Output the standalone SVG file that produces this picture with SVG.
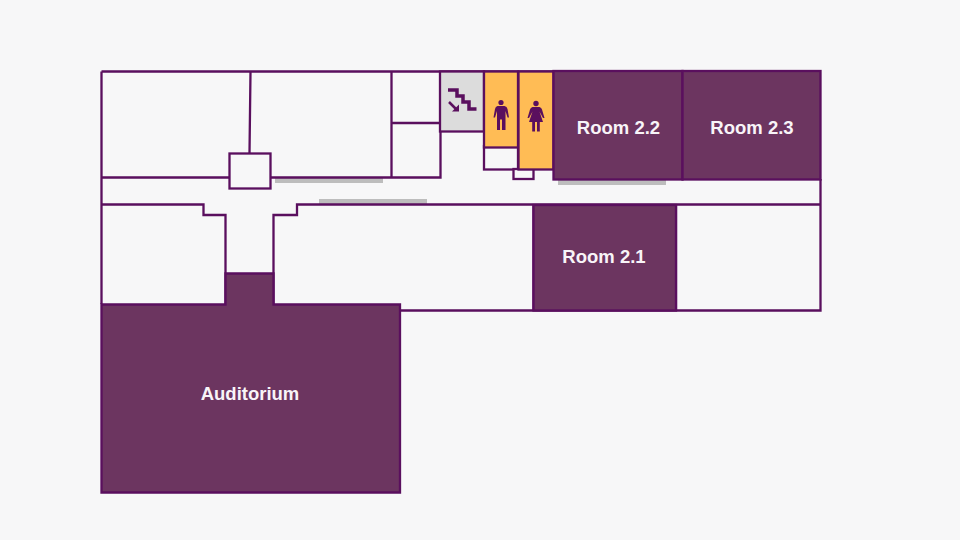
<svg xmlns="http://www.w3.org/2000/svg" width="960" height="540" viewBox="0 0 960 540">
<style>
.w{fill:none;stroke:#5a0f5e;stroke-width:2.300}
.r{fill:#f7f7f8;stroke:#5a0f5e;stroke-width:2.300}
.p{fill:#6c3560;stroke:#5a0f5e;stroke-width:2.300}
.y{fill:#ffbc55;stroke:#5a0f5e;stroke-width:2.300}
.g{fill:#bdbdbd}
.i{fill:#5a0f5e}
text{font-family:"Liberation Sans",Arial,sans-serif;font-size:18.500px;font-weight:700;fill:#f8f4f8;text-anchor:middle}
</style>
<rect width="960" height="540" fill="#f7f7f8"/>
<g id="corridor-shadows">
<rect class="g" x="275" y="178" width="108" height="5"/>
<rect class="g" x="319" y="199" width="108" height="5"/>
<rect class="g" x="558" y="180" width="108" height="5"/>
</g>
<g id="walls">
<path class="w" d="M101.500 71.500H553M101.500 71.500V304M101.500 177.500H229M271 177.500H391.500M250.500 71.500L249.500 153M391.500 71.500V177.500M391.500 123H440M440.500 71.500V177.500H391.500"/>
<path class="w" d="M820.500 179V310.500H400M101.500 204.500H203.500V215H225.500V304M820.500 204.500H297V215H273.500V304M533.500 205V310.500M676 205V310.500"/>
<rect class="r" x="229.500" y="153.500" width="41" height="35"/>
</g>
<g id="stairs">
<rect x="440" y="71.500" width="44" height="60" fill="#dcdcdc" stroke="#5a0f5e" stroke-width="2.300"/>
<path d="M448 90H457V96H463V102H469V109H476.500" fill="none" stroke="#5a0f5e" stroke-width="3.500"/>
<path d="M449 102L457 110" fill="none" stroke="#5a0f5e" stroke-width="2.500"/>
<path d="M459 104.500V111.500H452Z" class="i"/>
</g>
<g id="restroom-men">
<rect class="r" x="484" y="146" width="34" height="23.500"/>
<rect class="y" x="484" y="71.500" width="34" height="76"/>
<circle class="i" cx="501" cy="102.500" r="2.600"/>
<path class="i" d="M497.500 106H504.500Q507 106.500 507.500 109L509 117.500H507.500L505.500 111V130H502V119.500H500V130H497V111L495 117.500H493.500L495 109Q495.500 106.500 497.500 106Z"/>
</g>
<g id="restroom-women">
<rect class="r" x="513.500" y="169" width="20" height="10"/>
<rect class="y" x="518.500" y="71.500" width="35" height="98"/>
<circle class="i" cx="536" cy="103.500" r="2.700"/>
<path class="i" d="M532.500 107H539.500Q541.500 107.500 542 109.500L544.500 118H543L539.500 111.500L543 122H539.800V131.500H537V122H535V131.500H532.200V122H529L532.500 111.500L529 118H527.500L530 109.500Q530.500 107.500 532.500 107Z"/>
</g>
<g id="room-2-2"><rect class="p" x="553.500" y="71" width="129" height="108.500"/><text x="618.500" y="134">Room 2.2</text></g>
<g id="room-2-3"><rect class="p" x="682.500" y="71" width="138" height="108.500"/><text x="752" y="134">Room 2.3</text></g>
<g id="room-2-1"><rect class="p" x="533.500" y="205" width="142.500" height="105.500"/><text x="604" y="263">Room 2.1</text></g>
<g id="auditorium">
<path class="p" d="M101.500 304.500H225.500V273.500H273.500V304.500H400V492.500H101.500Z"/>
<text x="250" y="400">Auditorium</text>
</g>
</svg>
